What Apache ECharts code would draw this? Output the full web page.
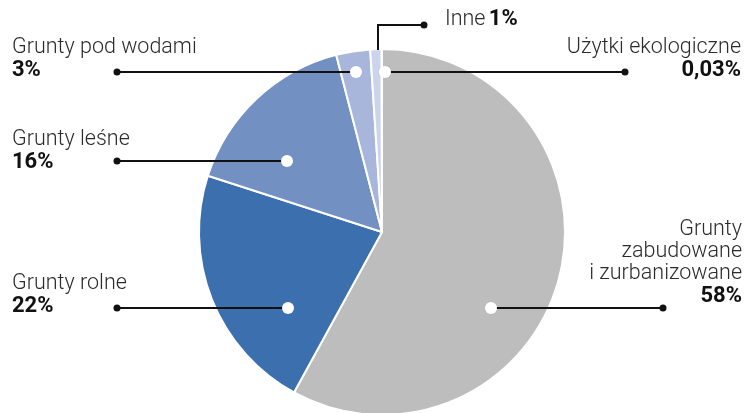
<!DOCTYPE html>
<html><head><meta charset="utf-8">
<script src="https://cdn.jsdelivr.net/npm/echarts@6/dist/echarts.min.js"></script>
<style>html,body{margin:0;padding:0;background:#fff}#c{width:747px;height:413px}</style>
</head><body><div id="c"></div>
<script>
const names = ['Grunty\nzabudowane\ni zurbanizowane', 'Grunty rolne', 'Grunty leśne', 'Grunty pod wodami', 'Inne', 'Użytki ekologiczne'];
const values = [58, 22, 16, 3, 1, 0.03];
const pctLabels = ['58%', '22%', '16%', '3%', '1%', '0,03%'];
const colors = ['#bdbdbd', '#3b6fae', '#7390c2', '#a7b6da', '#cbd4ec', '#d9dff0'];

// annotation layout (label anchors & leader lines)
const ann = [
  {x: 742, top: 219, align: 'right', pts: [[491, 308], [663, 308]], dot: true},
  {x: 12, top: 273, align: 'left', pts: [[288, 308], [117, 308]], dot: true},
  {x: 12, top: 129, align: 'left', pts: [[287, 161], [117, 161]], dot: true},
  {x: 12, top: 37, align: 'left', pts: [[356, 72], [117, 72]], dot: true},
  {x: 445, top: 8, align: 'left', pts: [[378, 50], [378, 25], [424, 25]], dot: false},
  {x: 741, top: 37, align: 'right', pts: [[385, 72], [625, 72]], dot: true}
];

const chart = echarts.init(document.getElementById('c'), null, {renderer: 'canvas'});
const data = names.map((n, i) => ({name: n, value: values[i], itemStyle: {color: colors[i]}}));

const graphics = [];
ann.forEach(a => {
  const s = a.pts[0], e = a.pts[a.pts.length - 1];
  graphics.push({type: 'polyline', shape: {points: a.pts}, style: {stroke: '#111', lineWidth: 2, fill: null}, z: 99});
  graphics.push({type: 'circle', shape: {cx: e[0], cy: e[1], r: 3.5}, style: {fill: '#111'}, z: 100});
  if (a.dot) graphics.push({type: 'circle', shape: {cx: s[0], cy: s[1], r: 6}, style: {fill: '#fff'}, z: 100});
});

chart.setOption({
  animation: false,
  graphic: graphics,
  series: [{
    type: 'pie',
    center: [382, 232],
    radius: 183,
    startAngle: 90,
    clockwise: true,
    avoidLabelOverlap: false,
    data: data,
    itemStyle: {borderColor: '#fff', borderWidth: 2},
    label: {
      show: true,
      position: 'outer',
      formatter: p => {
        const i = p.dataIndex;
        if (i === 4) return '{n|Inne} {p|' + pctLabels[i] + '}';
        const lines = names[i].split('\n').map(l => '{n|' + l + '}').join('\n');
        return lines + '\n{p|' + pctLabels[i] + '}';
      },
      rich: {
        n: {fontFamily: 'Roboto', fontSize: 21.5, fontWeight: 300, color: '#2b2b2b', lineHeight: 22},
        p: {fontFamily: 'Roboto', fontSize: 22, fontWeight: 'bold', color: '#111', lineHeight: 23}
      }
    },
    labelLine: {show: false},
    labelLayout: function (params) {
      const a = ann[params.dataIndex];
      return {x: a.x, y: a.top, align: a.align, verticalAlign: 'top'};
    }
  }]
});
</script></body></html>
